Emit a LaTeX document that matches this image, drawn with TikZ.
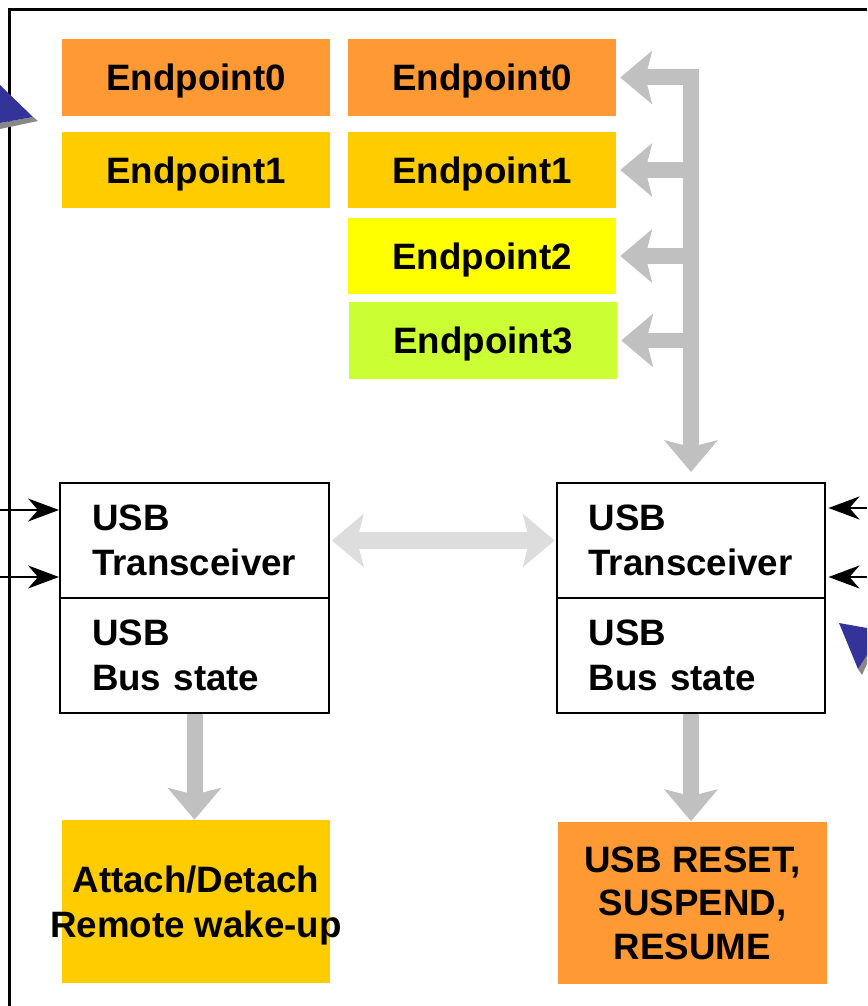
\documentclass[tikz,border=0pt]{standalone}
\usepackage{fontspec}
\setmainfont{Liberation Sans}
\usetikzlibrary{arrows.meta}

\definecolor{eporange}{HTML}{FF9933}
\definecolor{epgold}{HTML}{FFCC00}
\definecolor{epyellow}{HTML}{FFFF00}
\definecolor{eplime}{HTML}{CCFF33}
\definecolor{busgray}{HTML}{C0C0C0}
\definecolor{linkgray}{HTML}{DDDDDD}
\definecolor{pointblue}{HTML}{333399}
\definecolor{pointshade}{HTML}{888888}

\tikzset{
  bigfont/.style={font=\bfseries\fontsize{20.9pt}{25.6pt}\selectfont},
  epbox/.style={bigfont, inner sep=0pt, text depth=0pt, minimum width=5.36cm, minimum height=1.54cm},
  usbbox/.style={bigfont, draw, line width=0.04cm, inner xsep=0.64cm, inner ysep=0pt,
    text width=4.1cm, align=left, minimum height=2.3cm},
  eventbox/.style={bigfont, inner sep=0pt, minimum width=5.37cm, minimum height=3.26cm},
  frame/.style={line width=0.06cm},
  bus/.style={draw=busgray, line width=0.32cm, line join=miter},
  link/.style={draw=linkgray, line width=0.34cm},
  sig/.style={line width=0.04cm, -{Stealth[length=0.62cm, width=0.46cm, inset=0.2cm]}},
  bustip/.tip={Stealth[length=0.64cm, width=1.08cm, inset=0.14cm, line width=0pt]}
}

\begin{document}
\begin{tikzpicture}[x=0.02cm, y=-0.02cm]
    \useasboundingbox (0,0) rectangle (867,1006);
    \draw[frame] (9.5,1006) -- (9.5,9.5) -- (867,9.5);

    \fill[pointshade] (0,123) -- (33,117) -- (38,121) -- (0,129) -- cycle;
    \fill[pointblue] (0,85) -- (33,117) -- (0,123) -- cycle;
    \fill[pointshade] (858,669) -- (867,655) -- (867,664) -- (862,675) -- cycle;
    \fill[pointblue] (839,623) -- (867,628) -- (867,655) -- (858,669) -- cycle;

    \node[epbox, fill=eporange] (lep0) at (196,77.5) {Endpoint0};
    \node[epbox, fill=epgold] (lep1) at (196,170) {Endpoint1};
    \node[epbox, fill=eporange] (rep0) at (482,77.5) {Endpoint0};
    \node[epbox, fill=epgold] (rep1) at (482,170) {Endpoint1};
    \node[epbox, fill=epyellow] (rep2) at (482,256) {Endpoint2};
    \node[epbox, fill=eplime] (rep3) at (483,340.5) {Endpoint3};

    \node[usbbox] (ltrx) at (194.5,540.5) {USB\\Transceiver};
    \node[usbbox] (lbus) at (194.5,655.5) {USB\\Bus state};
    \node[usbbox] (rtrx) at (691,540.5) {USB\\Transceiver};
    \node[usbbox] (rbus) at (691,655.5) {USB\\Bus state};

    \node[eventbox, fill=epgold] (attach) at (196,901.5) {};
    \node[bigfont, align=center, text depth=0pt] (attachtxt) at (attach.center) {Attach/Detach\\Remote wake-up};
    \node[eventbox, fill=eporange, align=center, font=\bfseries\fontsize{20.9pt}{24.8pt}\selectfont]
      (events) at (692.5,903) {USB RESET,\\SUSPEND,\\RESUME};

    \draw[bus, {bustip}-{bustip}, shorten <=0.08cm, shorten >=0.2cm]
      (rep0.east) -- (rep0.east -| rtrx.north) -- (rtrx.north);
    \foreach \n in {1,2,3}
      \draw[bus, -{bustip}, shorten >=0.08cm] (rep\n.east -| rtrx.north) -- (rep\n.east);

    \draw[link, {bustip}-{bustip}, shorten <=0.04cm, shorten >=0.02cm] (ltrx.east) -- (rtrx.west);

    \draw[bus, -{bustip}] (lbus.south) -- (lbus.south |- attach.north);
    \draw[bus, -{bustip}] (rbus.south) -- (rbus.south |- events.north);

    \coordinate (lin1) at (0,510);
    \coordinate (lin2) at (0,577);
    \coordinate (rin1) at (867,508);
    \coordinate (rin2) at (867,577);
    \draw[sig] (lin1) -- (lin1 -| ltrx.west);
    \draw[sig] (lin2) -- (lin2 -| ltrx.west);
    \draw[sig, shorten >=0.04cm] (rin1) -- (rin1 -| rtrx.east);
    \draw[sig, shorten >=0.04cm] (rin2) -- (rin2 -| rtrx.east);
\end{tikzpicture}
\end{document}
